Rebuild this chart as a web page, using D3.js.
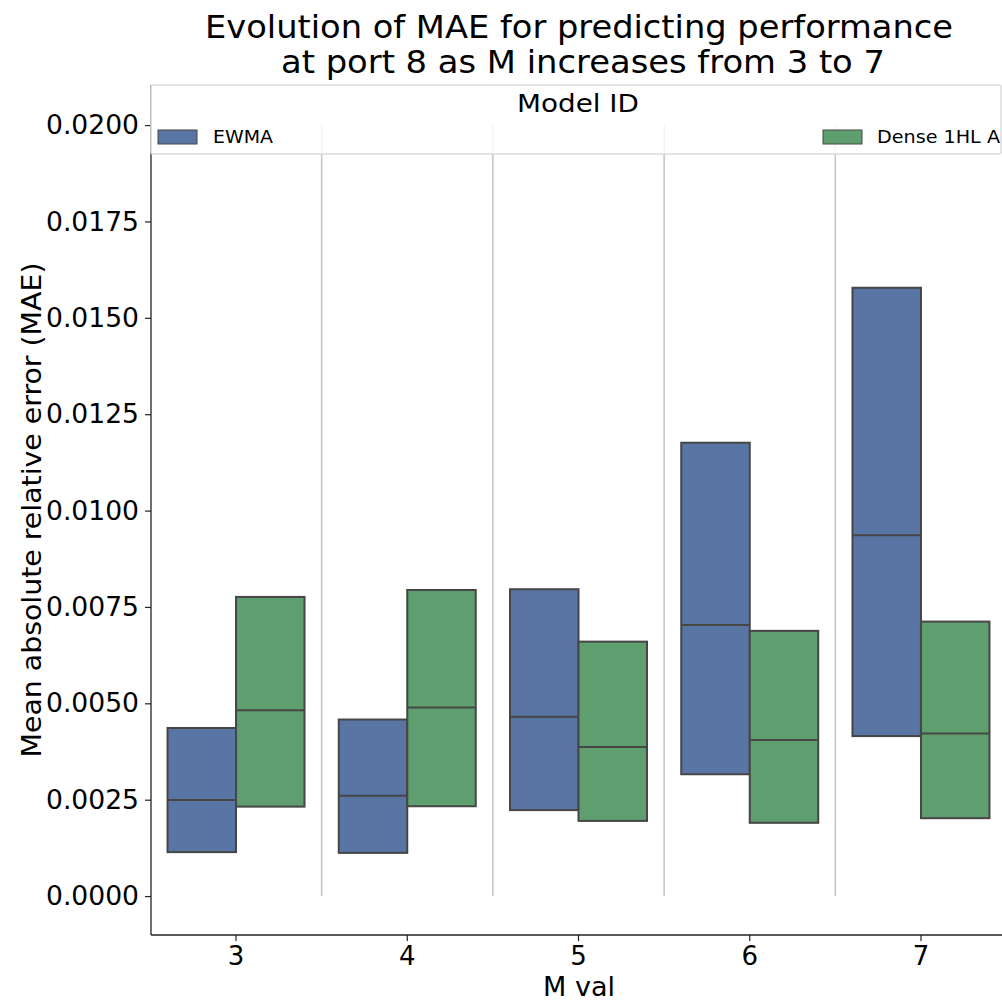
<!DOCTYPE html>
<html>
<head>
<meta charset="utf-8">
<style>
  body { margin: 0; background: #fff; }
  svg text { font-family: "DejaVu Sans", sans-serif; fill: #000; }
</style>
</head>
<body>
<svg id="chart" width="1002" height="1004"></svg>
<script src="https://cdn.jsdelivr.net/npm/d3@7"></script>
<script>
// box values: q1, median, q3 per M value
var mVals = ["3", "4", "5", "6", "7"];
var models = ["EWMA", "Dense 1HL A"];
var ewmaQ1  = [0.00114, 0.00112, 0.00223, 0.00316, 0.00415];
var ewmaMed = [0.00249, 0.00260, 0.00465, 0.00703, 0.00936];
var ewmaQ3  = [0.00436, 0.00458, 0.00796, 0.01176, 0.01578];
var denseQ1  = [0.00232, 0.00233, 0.00195, 0.00190, 0.00202];
var denseMed = [0.00482, 0.00489, 0.00387, 0.00405, 0.00422];
var denseQ3  = [0.00776, 0.00794, 0.00660, 0.00688, 0.00712];
var yTicks = [0, 0.0025, 0.005, 0.0075, 0.01, 0.0125, 0.015, 0.0175, 0.02];
var colors = ["#5975a4", "#5f9e6e"];

var svg = d3.select("#chart");

var axLeft = 151, axBottom = 935, axTop = 85;
var x = d3.scaleBand().domain(mVals).range([150.4, 1006.6]);
var hue = d3.scaleBand().domain(models).range([0, x.bandwidth() * 0.8]);
var y = d3.scaleLinear().domain([-0.00101, 0.02104]).range([axBottom, axTop]);

var boxes = [];
mVals.forEach(function(m, i){
	boxes.push({m: m, model: models[0], q1: ewmaQ1[i], med: ewmaMed[i], q3: ewmaQ3[i]});
	boxes.push({m: m, model: models[1], q1: denseQ1[i], med: denseMed[i], q3: denseQ3[i]});
});

// separators between categories
svg.append("g").selectAll("line").data(mVals.slice(1)).enter().append("line")
	.attr("x1", function(d){ return x(d); }).attr("x2", function(d){ return x(d); })
	.attr("y1", y(0)).attr("y2", y(0.02))
	.attr("stroke", "#c4c4c4").attr("stroke-width", 1.5);

var off = x.bandwidth() * 0.1;
var g = svg.append("g");
g.selectAll("rect").data(boxes).enter().append("rect")
	.attr("x", function(d){ return x(d.m) + off + hue(d.model); })
	.attr("width", hue.bandwidth())
	.attr("y", function(d){ return y(d.q3); })
	.attr("height", function(d){ return y(d.q1) - y(d.q3); })
	.attr("fill", function(d){ return colors[models.indexOf(d.model)]; })
	.attr("stroke", "#464646").attr("stroke-width", 2);
g.selectAll("line").data(boxes).enter().append("line")
	.attr("x1", function(d){ return x(d.m) + off + hue(d.model); })
	.attr("x2", function(d){ return x(d.m) + off + hue(d.model) + hue.bandwidth(); })
	.attr("y1", function(d){ return y(d.med); }).attr("y2", function(d){ return y(d.med); })
	.attr("stroke", "#464646").attr("stroke-width", 2);

// axes
var yAxis = svg.append("g").attr("transform", "translate(" + axLeft + ",0)")
	.call(d3.axisLeft(y).tickValues(yTicks).tickFormat(d3.format(".4f")).tickSize(6).tickPadding(6));
yAxis.select(".domain").remove();
yAxis.selectAll("text").attr("font-size", 27).attr("textLength", 93).attr("lengthAdjust", "spacingAndGlyphs");
yAxis.selectAll("line").attr("stroke", "#222").attr("stroke-width", 1.2);

var xAxis = svg.append("g").attr("transform", "translate(0," + axBottom + ")")
	.call(d3.axisBottom(x).tickSize(6).tickPadding(6));
xAxis.select(".domain").remove();
xAxis.selectAll("text").attr("font-size", 26);
xAxis.selectAll("line").attr("stroke", "#222").attr("stroke-width", 1.2);

svg.append("line").attr("x1", axLeft).attr("x2", axLeft).attr("y1", axTop).attr("y2", axBottom)
	.attr("stroke", "#222").attr("stroke-width", 1.3);
svg.append("line").attr("x1", axLeft).attr("x2", 1002).attr("y1", axBottom).attr("y2", axBottom)
	.attr("stroke", "#222").attr("stroke-width", 1.3);

// legend across the top
var lg = svg.append("g");
lg.append("rect").attr("x", axLeft).attr("y", axTop).attr("width", 850).attr("height", 69)
	.attr("fill", "#fff").attr("fill-opacity", 0.8).attr("stroke", "#dcdcdc").attr("stroke-width", 1.5).attr("rx", 2);
lg.append("text").attr("x", 578).attr("y", 112).attr("text-anchor", "middle")
	.attr("font-size", 25).attr("textLength", 122).attr("lengthAdjust", "spacingAndGlyphs").text("Model ID");
var legTextX = [213, 877], legPatchX = [158, 823], legTextW = [60, 123];
models.forEach(function(m, i){
	lg.append("rect").attr("x", legPatchX[i]).attr("y", 130).attr("width", 39).attr("height", 14)
		.attr("fill", colors[i]).attr("stroke", "#464646").attr("stroke-width", 1);
	lg.append("text").attr("x", legTextX[i]).attr("y", 143).attr("font-size", 18)
		.attr("textLength", legTextW[i]).attr("lengthAdjust", "spacingAndGlyphs").text(m);
});

// titles
svg.append("text").attr("x", 579).attr("y", 38).attr("text-anchor", "middle")
	.attr("font-size", 32).attr("textLength", 748).attr("lengthAdjust", "spacingAndGlyphs")
	.text("Evolution of MAE for predicting performance");
svg.append("text").attr("x", 583).attr("y", 73).attr("text-anchor", "middle")
	.attr("font-size", 32).attr("textLength", 604).attr("lengthAdjust", "spacingAndGlyphs")
	.text("at port 8 as M increases from 3 to 7");
svg.append("text").attr("x", 579).attr("y", 996).attr("text-anchor", "middle")
	.attr("font-size", 26).attr("textLength", 72).attr("lengthAdjust", "spacingAndGlyphs")
	.text("M val");
svg.append("text").attr("transform", "translate(41,510) rotate(-90)").attr("text-anchor", "middle")
	.attr("font-size", 26).attr("textLength", 495).attr("lengthAdjust", "spacingAndGlyphs")
	.text("Mean absolute relative error (MAE)");
</script>
</body>
</html>
